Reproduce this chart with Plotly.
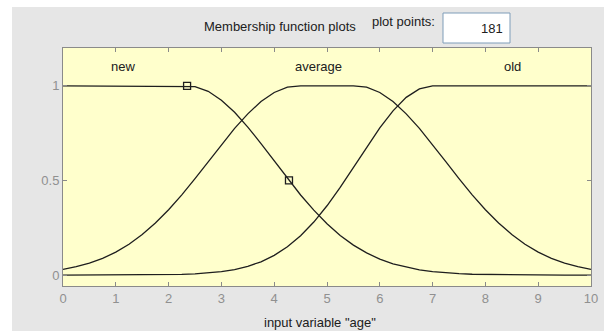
import plotly.graph_objects as go

# input variable "age", sampled every 0.25
age = [i * 0.25 for i in range(41)]

new = [1, 1, 1, 1, 1, 1, 1, 1, 1, 1, 0.996, 0.971, 0.924, 0.860, 0.782, 0.695,
       0.603, 0.511, 0.423, 0.343, 0.271, 0.209, 0.158, 0.117, 0.084, 0.059,
       0.041, 0.027, 0.018, 0.012, 0.007, 0.004, 0.003, 0.002, 0.001, 0, 0, 0, 0, 0, 0]

average = [0.030, 0.044, 0.063, 0.088, 0.121, 0.163, 0.214, 0.275, 0.345, 0.424,
           0.510, 0.599, 0.689, 0.775, 0.852, 0.917, 0.965, 0.993, 1, 1, 1, 1, 1,
           0.993, 0.965, 0.917, 0.852, 0.775, 0.689, 0.599, 0.510, 0.424, 0.345,
           0.275, 0.214, 0.163, 0.121, 0.088, 0.063, 0.044, 0.030]

old = [0, 0, 0, 0, 0, 0, 0, 0.001, 0.002, 0.003, 0.006, 0.011, 0.018, 0.029, 0.046,
       0.070, 0.104, 0.149, 0.208, 0.280, 0.366, 0.463, 0.568, 0.675, 0.778, 0.868,
       0.939, 0.984, 1, 1, 1, 1, 1, 1, 1, 1, 1, 1, 1, 1, 1]

# handles of the selected MF ("new")
handle_x = [2.35, 4.28]
handle_y = [1, 0.5]

mf_names = ["new", "average", "old"]
mf_label_x = [1.14, 4.83, 8.52]

x_ticks = list(range(11))
y_ticks = [0, 0.5, 1]

FONT = "Liberation Sans, Arial, sans-serif"
GRAY = "#E6E6E6"
AXIS = "#8A8A8A"
LINE = "#1E1E1E"
TEXT = "#202020"

fig = go.Figure()
for ys in [new, average, old]:
    fig.add_trace(go.Scatter(x=age, y=ys, mode="lines",
                             line=dict(color=LINE, width=1.3), showlegend=False))

fig.add_trace(go.Scatter(x=handle_x, y=handle_y, mode="markers", showlegend=False,
                         marker=dict(symbol="square-open", size=7, color=LINE,
                                     line=dict(width=1.3, color=LINE))))

for name, lx in zip(mf_names, mf_label_x):
    fig.add_annotation(x=lx, y=1.10, text=name, showarrow=False,
                       font=dict(family=FONT, size=13, color=TEXT))

# white strips round the gray panel (left and top)
fig.add_shape(type="rect", xref="paper", yref="paper", x0=-0.13, x1=-0.0966,
              y0=-0.25, y1=1.25, fillcolor="white", line_width=0)
fig.add_shape(type="rect", xref="paper", yref="paper", x0=-0.13, x1=1.05,
              y0=1.1723, y1=1.25, fillcolor="white", line_width=0)
# plot points box
fig.add_shape(type="rect", xref="paper", yref="paper", x0=0.7197, x1=0.8466,
              y0=1.021, y1=1.147, fillcolor="white", line=dict(color="#7F9DB9", width=1))


def label(x, y, text, xanchor="center"):
    fig.add_annotation(xref="paper", yref="paper", x=x, y=y, text=text, showarrow=False,
                       xanchor=xanchor, yanchor="middle", font=dict(family=FONT, size=13, color=TEXT))


label(0.411, 1.0924, "Membership function plots")
label(0.644, 1.1134, "plot points:")
label(0.837, 1.084, "181", xanchor="right")
label(0.487, -0.155, 'input variable "age"')

axis_style = dict(showline=True, linecolor=AXIS, linewidth=1, mirror="ticks",
                  ticks="inside", ticklen=4, tickcolor=AXIS, showgrid=False,
                  zeroline=False, automargin=False,
                  tickfont=dict(family=FONT, size=13, color="#909090"))

fig.update_layout(
    template="none",
    width=604, height=331,
    margin=dict(l=63, r=13, t=48, b=45),
    paper_bgcolor=GRAY, plot_bgcolor="#FFFFCC",
    xaxis=dict(range=[0, 10], tickvals=x_ticks, **axis_style),
    yaxis=dict(range=[-0.058, 1.2], tickvals=y_ticks, ticktext=["0", "0.5", "1"], **axis_style),
)

# drop the browser's default body margin so the figure sits at the page corner
fig.write_html("out.html", config={"displayModeBar": False},
               post_script="document.body.style.margin='0';"
                           "document.body.style.overflow='hidden';")
